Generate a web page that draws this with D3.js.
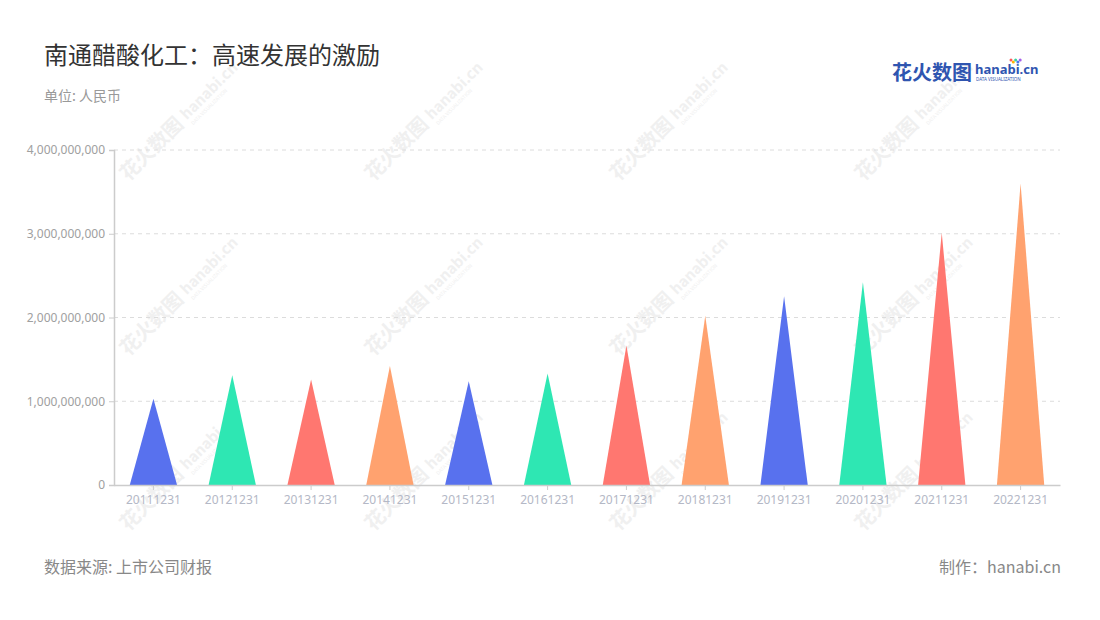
<!DOCTYPE html>
<html><head><meta charset="utf-8">
<script src="https://cdn.jsdelivr.net/npm/d3@7/dist/d3.min.js"></script>
<style>
body{margin:0;background:#fff;}
text{font-family:"Noto Sans CJK SC","Noto Sans",sans-serif;}
</style></head>
<body><svg id="c" width="1100" height="620"></svg>
<script>
const categories = ["20111231","20121231","20131231","20141231","20151231","20161231","20171231","20181231","20191231","20201231","20211231","20221231"];
const values = [1030000000,1310000000,1260000000,1420000000,1240000000,1330000000,1665000000,2020000000,2255000000,2420000000,3010000000,3600000000];
const palette = ["#5871ee","#2ee7b3","#ff7770","#ffa26f"];
const yTicks = [0,1000000000,2000000000,3000000000,4000000000];

const svg = d3.select("#c");
const m = {left:114, right:1060, top:150, bottom:485};

// watermarks
const wm = svg.append("g");
const wx = [160,405,650,895], wy = [150,325,500];
wy.forEach(yy=>wx.forEach(xx=>{
  const g = wm.append("g").attr("transform",`translate(${xx},${yy}) rotate(-45)`);
  g.append("text").attr("x",-45).attr("y",0).attr("font-size",20).attr("font-weight","bold").attr("fill","#f0f0f0").text("花火数图");
  g.append("text").attr("x",40).attr("y",-2).attr("font-size",15).attr("font-weight","bold").attr("fill","#f0f0f0").text("hanabi.cn");
  g.append("text").attr("x",41).attr("y",6).attr("font-size",5).attr("fill","#f0f0f0").text("DATA VISUALIZATION");
}));

const x = d3.scaleBand().domain(categories).range([m.left,m.right]).padding(0);
const y = d3.scaleLinear().domain([0,4000000000]).range([m.bottom,m.top]);

// grid
svg.append("g").selectAll("line").data(yTicks.slice(1)).join("line")
  .attr("x1",m.left).attr("x2",m.right).attr("y1",d=>y(d)).attr("y2",d=>y(d))
  .attr("stroke","#dcdcdc").attr("stroke-dasharray","4,4");

// y axis
const ya = svg.append("g").attr("transform",`translate(${m.left},0)`)
  .call(d3.axisLeft(y).tickValues(yTicks).tickFormat(d3.format(",")).tickSize(5).tickPadding(4));
ya.select(".domain").attr("stroke","#cccccc").attr("stroke-width",1.5);
ya.selectAll(".tick line").attr("stroke","#cccccc");
ya.selectAll("text").attr("fill","#a0a0a0").attr("font-size",12).style("font-family","'Noto Sans',sans-serif");

// triangles
const bw = x.bandwidth()*0.6;
svg.append("g").selectAll("path").data(categories).join("path")
  .attr("d",(c,i)=>{
    const cx = x(c)+x.bandwidth()/2;
    return `M${cx-bw/2},${y(0)}L${cx},${y(values[i])}L${cx+bw/2},${y(0)}Z`;
  })
  .attr("fill",(c,i)=>palette[i%4]);

// x axis
const xa = svg.append("g").attr("transform",`translate(0,${m.bottom})`)
  .call(d3.axisBottom(x).tickSize(5).tickPadding(5).tickSizeOuter(0));
xa.select(".domain").attr("stroke","#cccccc").attr("stroke-width",1.5);
xa.selectAll(".tick line").attr("stroke","#cccccc");
xa.selectAll("text").attr("fill","#b4b8c6").attr("font-size",12).style("font-family","'Noto Sans',sans-serif");

// titles
svg.append("text").attr("x",44).attr("y",64).attr("font-size",24).attr("fill","#333").text("南通醋酸化工：高速发展的激励");
svg.append("text").attr("x",44).attr("y",101).attr("font-size",14).attr("fill","#999").text("单位: 人民币");

// logo
svg.append("text").attr("x",892).attr("y",80).attr("font-size",20).attr("font-weight","bold").attr("fill","#2f55b0").text("花火数图");
svg.append("text").attr("x",975).attr("y",74).attr("font-size",13).attr("font-weight","bold").attr("fill","#2f55b0").style("font-family","'Noto Sans',sans-serif").text("hanabi.cn");
svg.append("text").attr("x",976).attr("y",81).attr("font-size",4.5).attr("fill","#2f55b0").style("font-family","'Noto Sans',sans-serif").text("DATA VISUALIZATION");
["#ff5a5a","#ffb400","#3ad29f","#4b7bec","#a55eea"].forEach((c,i)=>{
  svg.append("circle").attr("cx",1011+i*2.3).attr("cy",60+(i%2)*2).attr("r",1.5).attr("fill",c);
});

// footer
svg.append("text").attr("x",44).attr("y",573).attr("font-size",16).attr("fill","#888").text("数据来源: 上市公司财报");
svg.append("text").attr("x",1061).attr("y",573).attr("text-anchor","end").attr("font-size",16).attr("fill","#888").text("制作：hanabi.cn");
</script></body></html>
